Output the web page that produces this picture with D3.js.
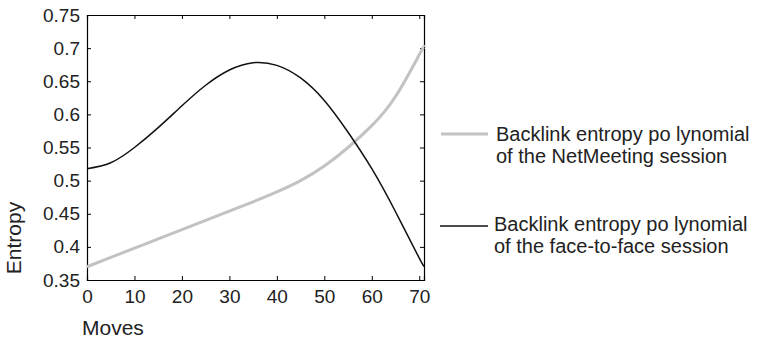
<!DOCTYPE html>
<html>
<head>
<meta charset="utf-8">
<script src="https://cdn.jsdelivr.net/npm/d3@7"></script>
<style>
  body { margin: 0; background: #fff; }
  text { font-family: "Liberation Sans", Arial, sans-serif; fill: #222; }
</style>
</head>
<body>
<svg id="chart" width="757" height="341"></svg>
<script>
/* ===============================
   Data
================================ */

const moves = [0, 5, 10, 15, 20, 25, 30, 35, 40, 45, 50, 55, 60, 65, 70, 71];

const netMeeting = [0.370, 0.384, 0.398, 0.412, 0.426, 0.440, 0.454, 0.468,
                    0.483, 0.500, 0.522, 0.550, 0.583, 0.627, 0.690, 0.702];

const faceToFace = [0.518, 0.527, 0.550, 0.580, 0.613, 0.644, 0.667, 0.678,
                    0.674, 0.655, 0.621, 0.573, 0.518, 0.453, 0.383, 0.372];

const xTicks = [0, 10, 20, 30, 40, 50, 60, 70];
const yTicks = [0.35, 0.4, 0.45, 0.5, 0.55, 0.6, 0.65, 0.7, 0.75];

const legendLabels = [
  ["Backlink entropy po lynomial", "of the NetMeeting session"],
  ["Backlink entropy po lynomial", "of the face-to-face session"]
];

/* ===============================
   Layout
================================ */

const plot = { left: 87, top: 15, right: 424, bottom: 280 };
const TICK = 4;

const svg = d3.select("#chart");

const x = d3.scaleLinear().domain([0, 71]).range([plot.left, plot.right]);
const y = d3.scaleLinear().domain([0.35, 0.75]).range([plot.bottom, plot.top]);

/* -------- Axes (MATLAB style box, inward ticks) -------- */

const fmt = d => String(+d.toFixed(2));

svg.append("g")
  .attr("transform", `translate(0,${plot.bottom})`)
  .call(d3.axisBottom(x).tickValues(xTicks).tickSize(-TICK).tickPadding(10).tickFormat(fmt))
  .call(g => g.selectAll("text").style("font-size", "19px").attr("dy", "0.71em"));

svg.append("g")
  .attr("transform", `translate(0,${plot.top})`)
  .call(d3.axisTop(x).tickValues(xTicks).tickSize(-TICK).tickFormat(""));

svg.append("g")
  .attr("transform", `translate(${plot.left},0)`)
  .call(d3.axisLeft(y).tickValues(yTicks).tickSize(-TICK).tickPadding(7).tickFormat(fmt))
  .call(g => g.selectAll("text").style("font-size", "19px"));

svg.append("g")
  .attr("transform", `translate(${plot.right},0)`)
  .call(d3.axisRight(y).tickValues(yTicks).tickSize(-TICK).tickFormat(""));

svg.selectAll(".domain").attr("stroke", "#000").attr("stroke-width", 1.2);
svg.selectAll(".tick line").attr("stroke", "#000");

/* -------- Axis labels -------- */

svg.append("text")
  .attr("x", 82)
  .attr("y", 335)
  .style("font-size", "21px")
  .text("Moves");

svg.append("text")
  .attr("transform", "translate(21,238) rotate(-90)")
  .attr("text-anchor", "middle")
  .style("font-size", "21px")
  .text("Entropy");

/* -------- Lines -------- */

const line = vals => d3.line()
  .x((d, i) => x(moves[i]))
  .y(d => y(d))
  .curve(d3.curveNatural)(vals);

svg.append("path")
  .attr("d", line(netMeeting))
  .attr("fill", "none")
  .attr("stroke", "#c2c2c2")
  .attr("stroke-width", 3);

svg.append("path")
  .attr("d", line(faceToFace))
  .attr("fill", "none")
  .attr("stroke", "#111")
  .attr("stroke-width", 1.5);

/* -------- Legend -------- */

const legendItems = [
  { x1: 441, x2: 488, y: 134, color: "#c2c2c2", w: 3, tx: 496, ty: 140.7 },
  { x1: 440, x2: 488, y: 226, color: "#111", w: 1.5, tx: 494, ty: 230.7 }
];

legendItems.forEach((item, i) => {
  svg.append("line")
    .attr("x1", item.x1).attr("x2", item.x2)
    .attr("y1", item.y).attr("y2", item.y)
    .attr("stroke", item.color)
    .attr("stroke-width", item.w);

  legendLabels[i].forEach((txt, j) => {
    svg.append("text")
      .attr("x", item.tx)
      .attr("y", item.ty + j * 22.5)
      .style("font-size", "20px")
      .text(txt);
  });
});
</script>
</body>
</html>
